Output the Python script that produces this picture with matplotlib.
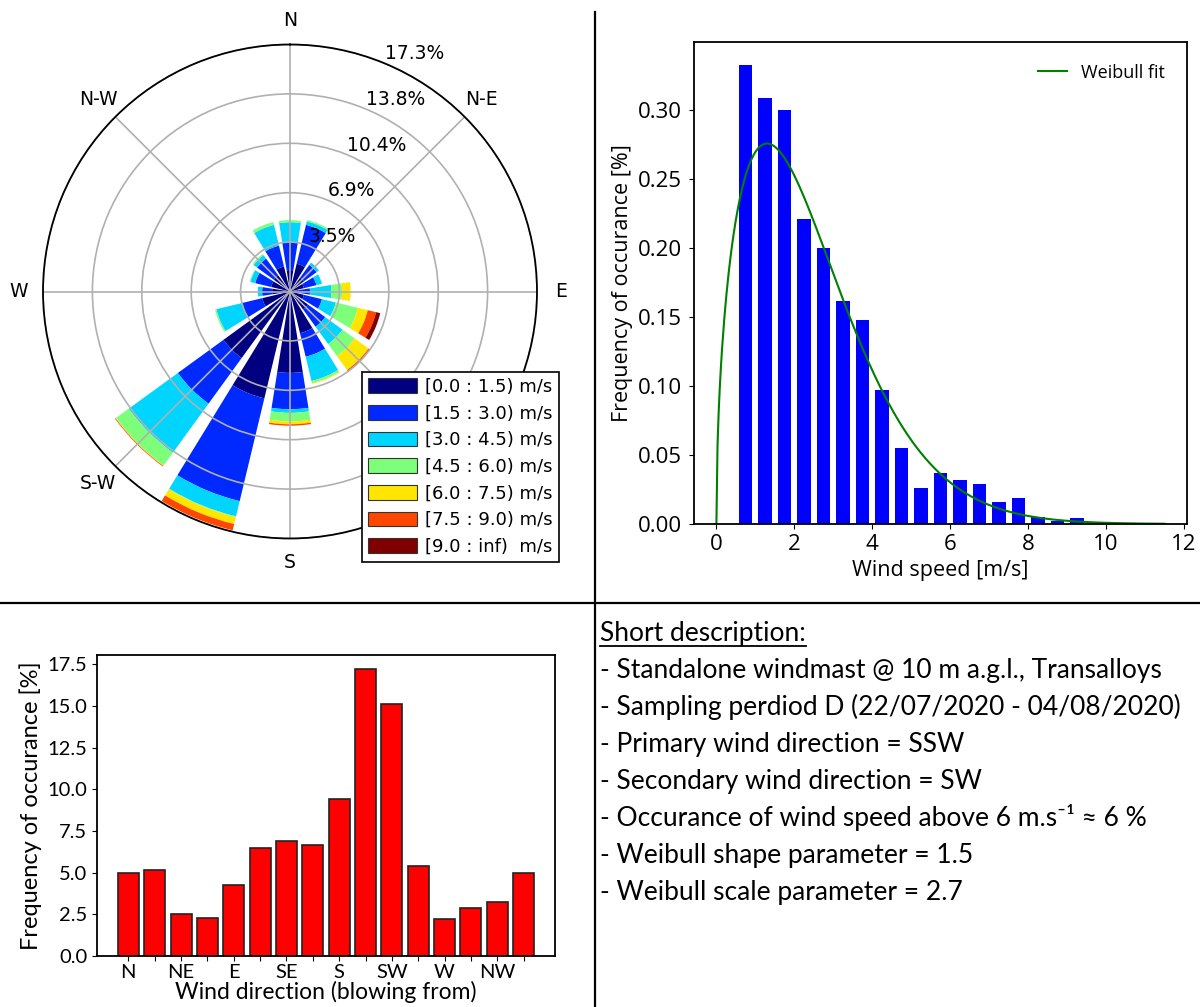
import numpy as np
import matplotlib
matplotlib.use("Agg")
import matplotlib.pyplot as plt
from matplotlib.lines import Line2D
from matplotlib.patches import Patch

# wind rose: frequency [%] per direction (N, NNE, ... NNW) for each speed bin
directions = ["N", "NNE", "NE", "ENE", "E", "ESE", "SE", "SSE",
              "S", "SSW", "SW", "WSW", "W", "WNW", "NW", "NNW"]
speed_labels = ["[0.0 : 1.5) m/s", "[1.5 : 3.0) m/s", "[3.0 : 4.5) m/s",
                "[4.5 : 6.0) m/s", "[6.0 : 7.5) m/s", "[7.5 : 9.0) m/s",
                "[9.0 : inf)  m/s"]
bin_0_15 = [1.5, 2.0, 1.2, 1.0, 0.6, 1.0, 1.55, 3.0, 5.7, 7.7, 5.76, 2.0, 1.25, 1.35, 1.4, 1.8]
bin_15_30 = [1.95, 2.8, 1.1, 0.9, 0.8, 1.3, 1.5, 1.7, 2.55, 7.4, 3.95, 1.5, 0.7, 1.15, 1.45, 1.5]
bin_30_45 = [1.4, 0.25, 0.2, 0.4, 1.5, 1.0, 1.5, 1.75, 0.25, 1.1, 4.25, 1.8, 0.3, 0.35, 0.3, 1.5]
bin_45_60 = [0.15, 0.1, 0.0, 0.0, 0.75, 1.6, 1.05, 0.15, 0.6, 0.05, 1.1, 0.1, 0.0, 0.05, 0.1, 0.2]
bin_60_75 = [0, 0, 0, 0, 0.6, 0.7, 1.2, 0.05, 0.2, 0.5, 0.04, 0, 0, 0, 0, 0]
bin_75_90 = [0, 0, 0, 0, 0, 0.6, 0.1, 0, 0.1, 0.45, 0.05, 0, 0, 0, 0, 0]
bin_90_inf = [0, 0, 0, 0, 0, 0.3, 0, 0, 0, 0, 0, 0, 0, 0, 0, 0]
rose_bins = [bin_0_15, bin_15_30, bin_30_45, bin_45_60, bin_60_75, bin_75_90, bin_90_inf]
rose_rmax = 17.3
# S-E sits under the legend in the original, so it is left blank
compass_labels = ["N", "N-E", "E", "", "S", "S-W", "W", "N-W"]

# wind speed histogram
speed_centers = [0.75, 1.25, 1.75, 2.25, 2.75, 3.25, 3.75, 4.25, 4.75,
                 5.25, 5.75, 6.25, 6.75, 7.25, 7.75, 8.25, 8.75, 9.25]
speed_freq = [0.333, 0.309, 0.300, 0.221, 0.200, 0.162, 0.148, 0.097, 0.055,
              0.026, 0.037, 0.032, 0.029, 0.016, 0.019, 0.005, 0.002, 0.004]
weibull_k = 1.5
weibull_c = 2.7

# direction frequency bar chart
dir_freq = [5.0, 5.15, 2.5, 2.3, 4.25, 6.5, 6.9, 6.65,
            9.4, 17.2, 15.15, 5.4, 2.25, 2.9, 3.25, 5.0]
dir_ticklabels = ["N", "", "NE", "", "E", "", "SE", "",
                  "S", "", "SW", "", "W", "", "NW", ""]

description = [
    "- Standalone windmast @ 10 m a.g.l., Transalloys",
    "- Sampling perdiod D (22/07/2020 - 04/08/2020)",
    "- Primary wind direction = SSW",
    "- Secondary wind direction = SW",
    "- Occurance of wind speed above 6 m.s\u207b\u00b9 \u2248 6 %",
    "- Weibull shape parameter = 1.5",
    "- Weibull scale parameter = 2.7",
]

W, H = 1200, 1007
fig = plt.figure(figsize=(W / 100, H / 100), dpi=100)


def box(left, top, right, bottom):
    return [left / W, 1 - bottom / H, (right - left) / W, (bottom - top) / H]


# ---- wind rose
ax = fig.add_axes(box(43, 44.5, 537, 538.5), projection="polar")
ax.set_theta_zero_location("N")
ax.set_theta_direction(-1)
theta = np.deg2rad(np.arange(len(directions)) * 22.5)
colors = plt.cm.jet(np.linspace(0, 1, len(rose_bins)))
bottom = np.zeros(len(directions))
for vals, c in zip(rose_bins, colors):
    vals = np.asarray(vals, dtype=float)
    ax.bar(theta, vals, width=np.deg2rad(22.5) * 0.8, bottom=bottom,
           color=c, linewidth=0)
    bottom += vals
ax.set_ylim(0, rose_rmax)
radii = np.linspace(0, rose_rmax, 6)[1:]
ax.set_rgrids(radii, ["%.1f%%" % r for r in radii], angle=22.5, fontsize=13.5)
ax.set_thetagrids(np.arange(0, 360, 45), compass_labels, fontsize=13.5)
ax.tick_params(axis="x", pad=7)
ax.grid(color="#b0b0b0", lw=1.2)
ax.spines["polar"].set_linewidth(1.3)
handles = [Patch(facecolor=c, edgecolor="#333333", lw=0.8) for c in colors]
leg = ax.legend(handles, speed_labels, loc="lower right",
                bbox_to_anchor=(1.045, -0.048), borderaxespad=0, fontsize=13,
                fancybox=False, framealpha=1, edgecolor="black",
                handlelength=2.7, handleheight=0.85, labelspacing=0.48,
                borderpad=0.35, handletextpad=0.45)
leg.get_frame().set_linewidth(1.2)

# ---- histogram with Weibull fit
ax2 = fig.add_axes(box(694, 42, 1187, 524))
ax2.bar(speed_centers, speed_freq, width=0.35, color="blue", linewidth=0)
xs = np.linspace(0, 11.5, 400)
pdf = (weibull_k / weibull_c) * (xs / weibull_c) ** (weibull_k - 1) * np.exp(-(xs / weibull_c) ** weibull_k)
ax2.plot(xs, pdf, color="green", lw=1.5, label="Weibull fit")
ax2.set_xticks([0, 2, 4, 6, 8, 10, 12])
ax2.set_yticks([0, 0.05, 0.1, 0.15, 0.2, 0.25, 0.3])
ax2.yaxis.set_major_formatter(matplotlib.ticker.FormatStrFormatter("%.2f"))
ax2.tick_params(axis="y", pad=5)
for lab in ax2.get_xticklabels() + ax2.get_yticklabels():
    lab.set_family("Open Sans")
    lab.set_fontsize(16)
ax2.set_xlabel("Wind speed [m/s]", family="Open Sans", fontsize=15.5)
ax2.set_ylabel("Frequency of occurance [%]", family="Open Sans", fontsize=15.5)
ax2.legend(loc="upper right", frameon=False, prop={"family": "Open Sans", "size": 13},
           handlelength=1.6, borderaxespad=0.8)
for s in ax2.spines.values():
    s.set_linewidth(1.3)

# ---- direction bar chart
ax3 = fig.add_axes(box(97, 655, 555, 956))
pos = np.arange(len(dir_freq))
ax3.bar(pos, dir_freq, width=0.8, color="red", edgecolor="#222222", lw=1.2)
ax3.set_xticks(pos)
ax3.set_xticklabels(dir_ticklabels)
ax3.set_yticks(np.arange(0, 17.6, 2.5))
ax3.yaxis.set_major_formatter(matplotlib.ticker.FormatStrFormatter("%.1f"))
ax3.tick_params(axis="x", pad=2)
for lab in ax3.get_xticklabels() + ax3.get_yticklabels():
    lab.set_family("Lato")
    lab.set_fontsize(14.5)
ax3.set_xlabel("Wind direction (blowing from)", family="Lato", fontsize=16.5, labelpad=0)
ax3.set_ylabel("Frequency of occurance [%]", family="Lato", fontsize=17)
for s in ax3.spines.values():
    s.set_linewidth(1.3)

# ---- description text
fam = ["Lato", "DejaVu Sans"]
title = fig.text(600 / W, 1 - 641 / H, "Short description:", family=fam,
                 fontsize=19, va="baseline")
for i, line in enumerate(description):
    fig.text(600 / W, 1 - (678 + 37 * i) / H, line, family=fam,
             fontsize=19, va="baseline")
fig.canvas.draw()
bb = title.get_window_extent()
uy = 1 - 646 / H
fig.add_artist(Line2D([bb.x0 / W, bb.x1 / W], [uy, uy], transform=fig.transFigure,
                      color="black", lw=1.3))

# ---- panel dividers
fig.add_artist(Line2D([0, 1], [1 - 603 / H] * 2, transform=fig.transFigure,
                      color="black", lw=1.6))
fig.add_artist(Line2D([595 / W] * 2, [0, 1 - 12 / H], transform=fig.transFigure,
                      color="black", lw=1.6))

fig.savefig("out.png", dpi=100)
